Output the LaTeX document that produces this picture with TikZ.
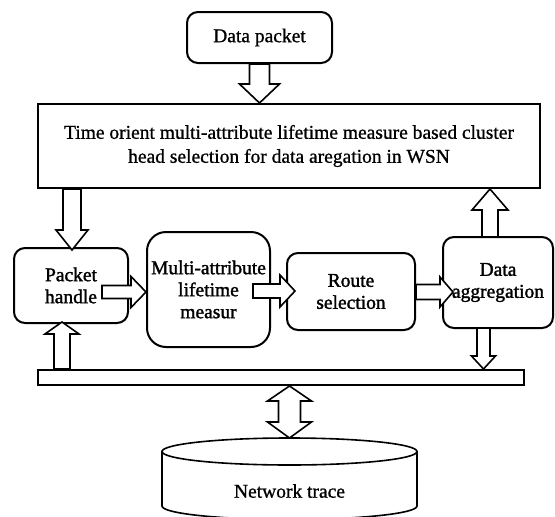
\documentclass[tikz,border=0pt]{standalone}
\usepackage{fontspec}
\setmainfont{Liberation Serif}
\newfontfamily\heavyserif[FakeBold=1.6]{Liberation Serif}
\newfontfamily\medserif[FakeBold=0.9]{Liberation Serif}
\usetikzlibrary{calc}
\tikzset{
  box/.style={draw, line width=2pt, rounded corners=11pt, align=center, inner sep=0pt, font=\heavyserif\fontsize{19.5}{22}\selectfont},
  plain/.style={font=\medserif\fontsize{19.5}{24}\selectfont},
  blk/.style={draw, line width=1.6pt, fill=white, line join=miter},
}
% #1 start, #2 end, #3 shaft half width, #4 head half width, #5 head length
\newcommand\barrow[5]{%
  \draw[blk] ($(#1)!#3pt!90:(#2)$) -- ($($(#2)!#5pt!(#1)$)!#3pt!90:(#2)$) -- ($($(#2)!#5pt!(#1)$)!#4pt!90:(#2)$) -- (#2)
    -- ($($(#2)!#5pt!(#1)$)!#4pt!-90:(#2)$) -- ($($(#2)!#5pt!(#1)$)!#3pt!-90:(#2)$) -- ($(#1)!#3pt!-90:(#2)$) -- cycle;}
\begin{document}
\begin{tikzpicture}[x=1pt,y=-1pt]
\useasboundingbox (0,0) rectangle (555,517);
\clip (0,0) rectangle (555,517);
\node[box, plain, minimum width=145pt, minimum height=51pt] (dp) at (259.5,37.5) {Data packet};
\node[box, plain, rounded corners=0pt, minimum width=502pt, minimum height=84pt] (main) at (289,146)
  {Time orient multi-attribute lifetime measure based cluster\\head selection for data aregation in WSN};
\node[box, minimum width=114pt, minimum height=75pt] (ph) at (71,285.5) {Packet\\handle};
\node[box, rounded corners=19pt, minimum width=123pt, minimum height=115pt] (ma) at (208.5,289.5) {Multi-attribute\\lifetime\\measur};
\node[box, minimum width=128pt, minimum height=77pt] (rs) at (351,291.5) {Route\\selection};
\node[box, minimum width=110pt, minimum height=91pt] (da) at (498,282.5) {Data\\aggregation};
\node[draw, line width=2pt, minimum width=486pt, minimum height=15pt, inner sep=0pt] (bus) at (281,377.5) {};
% cylinder
\coordinate (cyltop) at (289.5,438);
\draw[line width=1.6pt, fill=white] (162,451.5) -- (162,506) arc[start angle=180, end angle=0, x radius=127.5, y radius=13.5] -- (417,451.5);
\draw[line width=1.6pt, fill=white] (289.5,451.5) ellipse[x radius=127.5, y radius=13.5];
\node[plain] (nt) at (289.5,491) {Network trace};
% arrows
\coordinate (a0e) at (main.north -| dp.south);
\barrow{dp.south}{a0e}{10}{20}{19}
\coordinate (a1s) at (main.south -| 72,0);
\coordinate (a1e) at (72,250);
\barrow{a1s}{a1e}{9}{16}{20}
\coordinate (a2s) at (490,237);
\coordinate (a2e) at (main.south -| 490,0);
\barrow{a2s}{a2e}{8}{18}{21}
\coordinate (a3s) at (102,292);
\coordinate (a3e) at (ma.west |- 0,292);
\barrow{a3s}{a3e}{6.5}{15.5}{15}
\coordinate (a4s) at (253,291);
\coordinate (a4e) at (295,291);
\barrow{a4s}{a4e}{7}{16}{15}
\coordinate (a5s) at (rs.east |- 0,292);
\coordinate (a5e) at (453,292);
\barrow{a5s}{a5e}{7.5}{15}{13}
\coordinate (a6s) at (483.5,328);
\coordinate (a6e) at (bus.north -| 483.5,0);
\barrow{a6s}{a6e}{6.5}{12}{13}
\coordinate (a7s) at (bus.north -| 62,0);
\coordinate (a7e) at (62,322);
\barrow{a7s}{a7e}{8}{17}{12}
% double arrow
\coordinate (d1) at (bus.south -| cyltop);
\draw[blk] (d1) -- (311.5,401) -- (300.5,401) -- (300.5,422) -- (311.5,422) -- (cyltop) -- (267.5,422) -- (278.5,422) -- (278.5,401) -- (267.5,401) -- cycle;
\end{tikzpicture}
\end{document}
